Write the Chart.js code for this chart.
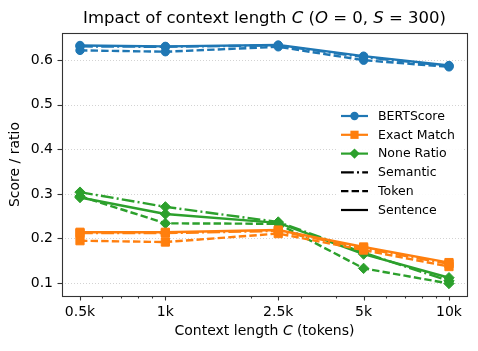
<!DOCTYPE html>
<html>
<head>
<meta charset="utf-8">
<script src="https://cdn.jsdelivr.net/npm/chart.js@4.4.0/dist/chart.umd.min.js"></script>
<style>
    html, body { margin: 0; padding: 0; background: #fff; }
    #wrap { width: 478px; height: 351px; }
</style>
</head>
<body>
<div id="wrap"><canvas id="lineChart" width="478" height="351"></canvas></div>
<script>
    "use strict";

    // data
    var contextLengths = [500, 1000, 2500, 5000, 10000];
    var contextTickLabels = ["0.5k", "1k", "2.5k", "5k", "10k"];
    var minorTicks = [600, 700, 800, 900, 2000, 3000, 4000, 6000, 7000, 8000, 9000];
    var scoreTicks = [0.1, 0.2, 0.3, 0.4, 0.5, 0.6];

    var bertSemantic = [0.631, 0.630, 0.633, 0.607, 0.587];
    var bertToken = [0.622, 0.619, 0.630, 0.600, 0.585];
    var bertSentence = [0.633, 0.631, 0.634, 0.609, 0.588];

    var exactSemantic = [0.212, 0.212, 0.217, 0.178, 0.143];
    var exactToken = [0.195, 0.192, 0.211, 0.174, 0.137];
    var exactSentence = [0.214, 0.214, 0.219, 0.181, 0.146];

    var noneSemantic = [0.304, 0.271, 0.237, 0.168, 0.105];
    var noneToken = [0.295, 0.234, 0.233, 0.133, 0.099];
    var noneSentence = [0.292, 0.255, 0.235, 0.165, 0.112];

    var BLUE = "#1f77b4", ORANGE = "#ff7f0e", GREEN = "#2ca02c";
    var FONT = "'DejaVu Sans', sans-serif";
    var dashes = {
        "Semantic": [12.8, 3.2, 2, 3.2],
        "Token": [7.4, 3.2],
        "Sentence": []
    };
    var markers = {
        "BERTScore": { style: "circle", radius: 4.2 },
        "Exact Match": { style: "rect", radius: 5.8 },
        "None Ratio": { style: "rectRot", radius: 5.2 }
    };

    function MakeSet(metric, gran, values, color) {
        return {
            label: metric + " " + gran,
            data: contextLengths.map(function (c, i) { return { x: c, y: values[i] }; }),
            borderColor: color,
            backgroundColor: color,
            borderWidth: 2.4,
            borderDash: dashes[gran],
            pointStyle: markers[metric].style,
            pointRadius: markers[metric].radius,
            pointHoverRadius: markers[metric].radius,
            pointBorderWidth: 1,
            tension: 0,
            fill: false
        };
    }

    function DrawMarker(ctx, style, r, x, y, color) {
        ctx.save();
        ctx.fillStyle = color;
        ctx.setLineDash([]);
        ctx.beginPath();
        if (style === "circle") {
            ctx.arc(x, y, r, 0, Math.PI * 2);
        } else if (style === "rect") {
            var s = r * Math.SQRT1_2;
            ctx.rect(x - s, y - s, 2 * s, 2 * s);
        } else {
            ctx.moveTo(x, y - r); ctx.lineTo(x + r, y); ctx.lineTo(x, y + r); ctx.lineTo(x - r, y); ctx.closePath();
        }
        ctx.fill();
        ctx.restore();
    }

    // grid, spines, tick marks, title, axis labels and legend
    var decorPlugin = {
        id: "decor",
        beforeDatasetsDraw: function (chart) {
            var ctx = chart.ctx, a = chart.chartArea, ys = chart.scales.y;
            ctx.save();
            ctx.strokeStyle = "#c8c8c8";
            ctx.lineWidth = 0.8;
            ctx.setLineDash([1, 2]);
            scoreTicks.forEach(function (v) {
                var py = Math.round(ys.getPixelForValue(v)) + 0.5;
                ctx.beginPath(); ctx.moveTo(a.left, py); ctx.lineTo(a.right, py); ctx.stroke();
            });
            ctx.restore();
        },
        afterDraw: function (chart) {
            var ctx = chart.ctx, a = chart.chartArea, xs = chart.scales.x, ys = chart.scales.y;
            ctx.save();
            ctx.strokeStyle = "#333";
            ctx.lineWidth = 1.1;
            ctx.strokeRect(Math.round(a.left) + 0.5, Math.round(a.top) + 0.5, Math.round(a.right - a.left), Math.round(a.bottom - a.top));
            contextLengths.concat(minorTicks).forEach(function (v) {
                var px = Math.round(xs.getPixelForValue(v)) + 0.5;
                var len = contextLengths.indexOf(v) >= 0 ? 4.5 : 2.5;
                ctx.beginPath(); ctx.moveTo(px, a.bottom); ctx.lineTo(px, a.bottom + len); ctx.stroke();
            });
            scoreTicks.forEach(function (v) {
                var py = Math.round(ys.getPixelForValue(v)) + 0.5;
                ctx.beginPath(); ctx.moveTo(a.left - 4.5, py); ctx.lineTo(a.left, py); ctx.stroke();
            });

            // title with italic symbols
            DrawRich(ctx, [["Impact of context length ", false], ["C", true], [" (", false], ["O", true],
                [" = 0, ", false], ["S", true], [" = 300)", false]], 16.5, (a.left + a.right) / 2, 19);
            DrawRich(ctx, [["Context length ", false], ["C", true], [" (tokens)", false]], 14, (a.left + a.right) / 2, 331);

            ctx.save();
            ctx.translate(15.5, (a.top + a.bottom) / 2);
            ctx.rotate(-Math.PI / 2);
            ctx.font = "14px " + FONT;
            ctx.fillStyle = "#000";
            ctx.textAlign = "center";
            ctx.textBaseline = "middle";
            ctx.fillText("Score / ratio", 0, 0);
            ctx.restore();

            // legend
            ctx.fillStyle = "rgba(255,255,255,0.9)";
            ctx.fillRect(336, 106, 127, 114);
            var rows = [
                { text: "BERTScore", color: BLUE, marker: markers["BERTScore"], dash: [] },
                { text: "Exact Match", color: ORANGE, marker: markers["Exact Match"], dash: [] },
                { text: "None Ratio", color: GREEN, marker: markers["None Ratio"], dash: [] },
                { text: "Semantic", color: "#000", dash: dashes["Semantic"] },
                { text: "Token", color: "#000", dash: dashes["Token"] },
                { text: "Sentence", color: "#000", dash: dashes["Sentence"] }
            ];
            ctx.font = "12.5px " + FONT;
            ctx.textAlign = "left";
            ctx.textBaseline = "middle";
            rows.forEach(function (r, i) {
                var y = 116 + i * 18.8;
                ctx.strokeStyle = r.color;
                ctx.lineWidth = 2.2;
                ctx.setLineDash(r.dash);
                ctx.beginPath(); ctx.moveTo(341, y); ctx.lineTo(368, y); ctx.stroke();
                ctx.setLineDash([]);
                if (r.marker) {
                    DrawMarker(ctx, r.marker.style, r.marker.radius, 354.5, y, r.color);
                }
                ctx.fillStyle = "#000";
                ctx.fillText(r.text, 378, y + 0.5);
            });
            ctx.restore();
        }
    };

    function DrawRich(ctx, parts, size, cx, cy) {
        ctx.save();
        ctx.fillStyle = "#000";
        ctx.textBaseline = "middle";
        ctx.textAlign = "left";
        var total = 0;
        parts.forEach(function (p) {
            ctx.font = (p[1] ? "italic " : "") + size + "px " + FONT;
            total += ctx.measureText(p[0]).width;
        });
        var x = cx - total / 2;
        parts.forEach(function (p) {
            ctx.font = (p[1] ? "italic " : "") + size + "px " + FONT;
            ctx.fillText(p[0], x, cy);
            x += ctx.measureText(p[0]).width;
        });
        ctx.restore();
    }

    function Init() {
        Chart.defaults.font.family = FONT;
        Chart.defaults.color = "#000";

        var ctx = document.getElementById("lineChart");
        var myChart = new Chart(ctx, {
            type: "line",
            data: {
                datasets: [
                    MakeSet("BERTScore", "Semantic", bertSemantic, BLUE),
                    MakeSet("BERTScore", "Token", bertToken, BLUE),
                    MakeSet("BERTScore", "Sentence", bertSentence, BLUE),
                    MakeSet("Exact Match", "Semantic", exactSemantic, ORANGE),
                    MakeSet("Exact Match", "Token", exactToken, ORANGE),
                    MakeSet("Exact Match", "Sentence", exactSentence, ORANGE),
                    MakeSet("None Ratio", "Semantic", noneSemantic, GREEN),
                    MakeSet("None Ratio", "Token", noneToken, GREEN),
                    MakeSet("None Ratio", "Sentence", noneSentence, GREEN)
                ]
            },
            options: {
                responsive: false,
                animation: false,
                layout: { padding: { top: 33, right: 11, bottom: 0, left: 0 } },
                plugins: {
                    legend: { display: false },
                    title: { display: false },
                    tooltip: { enabled: false }
                },
                scales: {
                    x: {
                        type: "logarithmic",
                        min: 432,
                        max: 11575,
                        grid: { display: false, drawTicks: false },
                        border: { display: false },
                        afterBuildTicks: function (scale) {
                            scale.ticks = contextLengths.map(function (v) { return { value: v }; });
                        },
                        afterFit: function (scale) { scale.height = 55; },
                        ticks: {
                            autoSkip: false,
                            maxRotation: 0,
                            padding: 8,
                            font: { size: 14 },
                            callback: function (value) {
                                var i = contextLengths.indexOf(value);
                                return i >= 0 ? contextTickLabels[i] : "";
                            }
                        }
                    },
                    y: {
                        min: 0.071,
                        max: 0.661,
                        grid: { display: false, drawTicks: false },
                        border: { display: false },
                        afterBuildTicks: function (scale) {
                            scale.ticks = scoreTicks.map(function (v) { return { value: v }; });
                        },
                        afterFit: function (scale) { scale.width = 62; },
                        ticks: {
                            padding: 9,
                            font: { size: 14 },
                            callback: function (value) { return value.toFixed(1); }
                        }
                    }
                }
            },
            plugins: [decorPlugin]
        });
    }

    Init();
</script>
</body>
</html>
